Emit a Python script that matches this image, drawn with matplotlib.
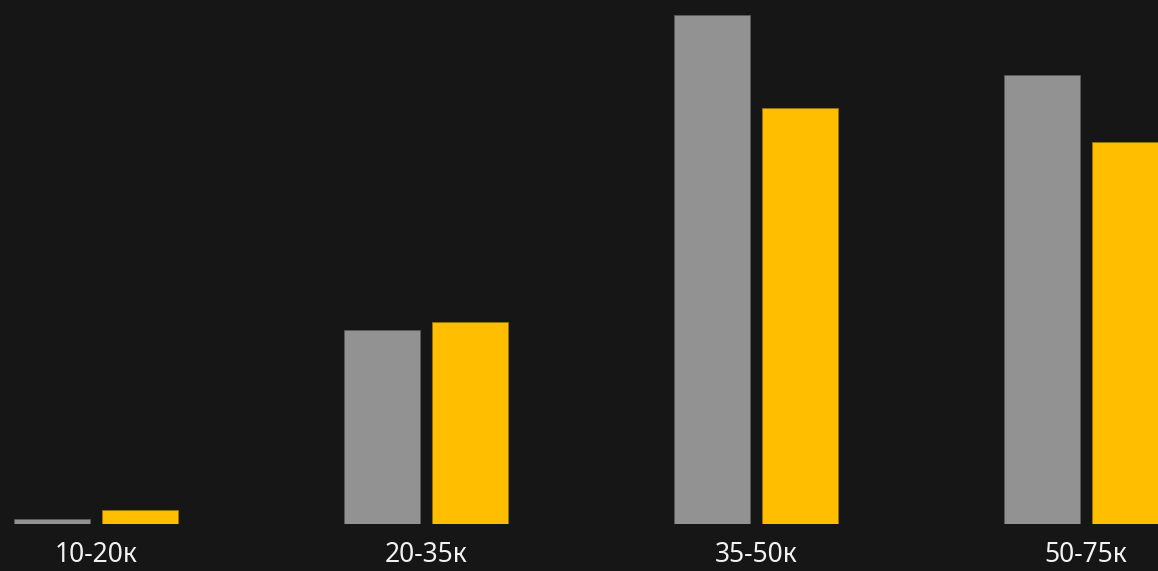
import matplotlib
matplotlib.use("Agg")
import matplotlib.pyplot as plt
import numpy as np

categories = ["10-20к", "20-35к", "35-50к", "50-75к"]
series_grey = [5, 194, 509, 449]
series_yellow = [14, 202, 416, 382]

BG = "#161616"
GREY = "#929292"
YELLOW = "#ffbf00"

fig = plt.figure(figsize=(11.58, 5.71), dpi=100, facecolor=BG)
ax = fig.add_axes([0, 47 / 571, 1, 524 / 571])
ax.set_facecolor(BG)

x = np.arange(len(categories))
w = 76 / 330
off = 43.75 / 330
ax.bar(x - off, series_grey, width=w, color=GREY, edgecolor="#5a5a5a", linewidth=0.6)
ax.bar(x + off, series_yellow, width=w, color=YELLOW, edgecolor="#9a7400", linewidth=0.6)

ax.set_xlim(-96 / 330, (1158 - 96) / 330)
ax.set_ylim(0, 524)
ax.set_xticks(x)
ax.set_xticklabels(categories, fontsize=19, color="#f2f2f2", family=["Noto Sans", "DejaVu Sans"])
ax.tick_params(axis="x", length=0, pad=12)
ax.set_yticks([])
for s in ax.spines.values():
    s.set_visible(False)

fig.savefig("out.png", dpi=100, facecolor=BG)
